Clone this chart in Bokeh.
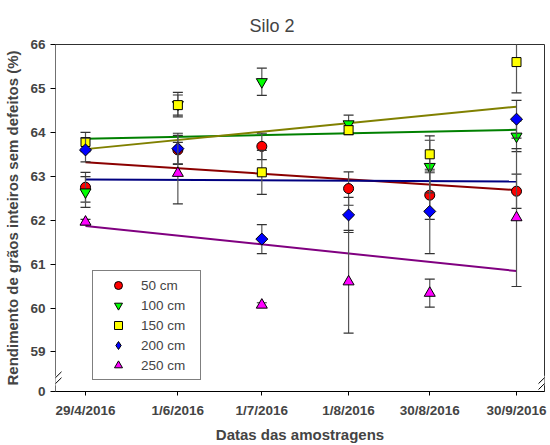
import numpy as np
import pandas as pd
from bokeh.plotting import figure
from bokeh.models import (Range1d, FixedTicker, Legend, LegendItem, Arrow,
                          ColumnDataSource)
from bokeh.embed import file_html
from bokeh.resources import INLINE

# ---------------- data ----------------
dates = ["29/4/2016", "1/6/2016", "1/7/2016", "1/8/2016", "30/8/2016", "30/9/2016"]
series_names = ["50 cm", "100 cm", "150 cm", "200 cm", "250 cm"]

y50 = [62.75, 63.60, 63.68, 62.72, 62.57, 62.66]
e50 = [0.34, 0.33, 0.30, 0.38, 0.55, 0.39]
y100 = [62.64, 64.63, 65.15, 64.19, 63.22, 63.91]
e100 = [0.35, 0.28, 0.31, 0.20, 0.60, 0.35]
y150 = [63.78, 64.62, 63.09, 64.05, 63.50, 65.60]
e150 = [0.22, 0.23, 0.50, 0.10, 0.42, 0.70]
y200 = [63.60, 63.63, 61.57, 62.12, 62.20, 64.30]
e200 = [0.27, 0.35, 0.33, 0.40, 0.96, 0.43]
y250 = [61.96, 63.07, 60.07, 60.60, 60.34, 62.06]
e250 = [0.06, 0.70, 0.05, 1.17, 0.32, 1.57]

y_ticks = [59, 60, 61, 62, 63, 64, 65, 66]
y_break_label = "0"

# ---------------- styles ----------------
fills = ["#FF0000", "#00FF00", "#FFFF00", "#0000FF", "#FF00FF"]
line_cols = ["#8B0000", "#008000", "#808000", "#000080", "#800080"]
markers = ["circle", "inverted_triangle", "square", "square", "triangle"]
legend_markers = ["circle", "inverted_triangle", "square", "diamond", "triangle"]
sizes = [10, 11, 9, 8.5, 11]
angles = [0, 0, 0, np.pi / 4, 0]
FONT = "Liberation Sans"

d = pd.to_datetime(dates, format="%d/%m/%Y")
days = np.array([(t - d[0]).days for t in d], dtype=float)

ymin, ymax = 58.1, 66.0
xmin, xmax = -10.72, 164.0

W, H = 550, 445
BL, BR, BT, BB = 55, 6, 44, 49

p = figure(width=W, height=H, output_backend="svg", toolbar_location=None,
           x_range=Range1d(xmin, xmax), y_range=Range1d(ymin, ymax),
           min_border_left=BL, min_border_right=BR, min_border_top=BT,
           min_border_bottom=BB)
p.background_fill_color = "white"
p.border_fill_color = "white"
p.outline_line_color = "#303030"
p.outline_line_width = 1
p.xgrid.visible = False
p.ygrid.visible = False

p.title.text = "Silo 2"
p.title.align = "left"
p.title.offset = 194
p.title.standoff = 17
p.title.text_font = FONT
p.title.text_font_style = "normal"
p.title.text_font_size = "18px"

# axes
xa = p.xaxis[0]
xa.ticker = FixedTicker(ticks=list(days))
xa.major_label_overrides = {float(k): lab for k, lab in zip(days, dates)}
xa.minor_tick_line_color = None
xa.major_tick_in = 0
xa.major_tick_out = 4
xa.major_label_text_font = FONT
xa.major_label_text_font_style = "bold"
xa.major_label_text_font_size = "13.5px"
xa.major_label_standoff = 7
xa.axis_label = "Datas das amostragens"
xa.axis_label_text_font = FONT
xa.axis_label_text_font_style = "bold"
xa.axis_label_text_font_size = "15px"
xa.axis_label_standoff = 5
xa.axis_line_color = "black"

ya = p.yaxis[0]
ya.ticker = FixedTicker(ticks=[ymin] + y_ticks)
ya.major_label_overrides = {ymin: y_break_label}
ya.minor_tick_line_color = None
ya.major_tick_in = 0
ya.major_tick_out = 5
ya.major_label_text_font = FONT
ya.major_label_text_font_style = "bold"
ya.major_label_text_font_size = "13.5px"
ya.major_label_standoff = 5
ya.axis_label = "Rendimento de grãos inteiros sem defeitos (%)"
ya.axis_label_text_font = FONT
ya.axis_label_text_font_style = "bold"
ya.axis_label_text_font_size = "15px"
ya.axis_label_standoff = 6
ya.axis_line_color = "#707070"

all_y = [y50, y100, y150, y200, y250]
all_e = [e50, e100, e150, e200, e250]

# regression lines (drawn below markers)
for yv, lc in zip(all_y, line_cols):
    slope, icpt = np.polyfit(days, np.array(yv), 1)
    xs = [days[0], days[-1]]
    p.line(xs, [icpt + slope * x for x in xs], line_color=lc, line_width=2)

items = []
for name, yv, ev, fc, mk, lmk, sz, ang in zip(series_names, all_y, all_e, fills,
                                               markers, legend_markers, sizes, angles):
    yv = np.array(yv)
    ev = np.array(ev)
    src = ColumnDataSource(dict(x=days, y=yv, lo=yv - ev, hi=yv + ev))
    p.segment(x0="x", y0="lo", x1="x", y1="hi", source=src,
              line_color="#555555", line_width=1.2)
    p.scatter(x="x", y="lo", source=src, marker="dash", size=10,
              line_color="#333333", line_width=1.2)
    p.scatter(x="x", y="hi", source=src, marker="dash", size=10,
              line_color="#333333", line_width=1.2)
    leg_r = None
    if lmk != mk:
        # same points drawn as a diamond underneath (covered by the rotated
        # square) so that the legend shows a diamond glyph
        leg_r = p.scatter(x="x", y="y", source=src, marker=lmk, size=sz,
                          fill_color=fc, line_color="black", line_width=1)
    r = p.scatter(x="x", y="y", source=src, marker=mk, size=sz, angle=ang,
                  fill_color=fc, line_color="black", line_width=1)
    items.append(LegendItem(label=name, renderers=[leg_r if leg_r is not None else r]))

legend = Legend(items=items, location=(37, 11), spacing=0, padding=4,
                glyph_width=42, glyph_height=20, label_height=18,
                label_standoff=2, label_width=55,
                label_text_font=FONT, label_text_font_size="13.5px",
                border_line_color="black", border_line_width=1,
                background_fill_color="white", background_fill_alpha=1)
p.add_layout(legend)

# axis-break marks
FW = W - BL - BR
FH = H - BT - BB
px_per_day = FW / (xmax - xmin)
px_per_unit = FH / (ymax - ymin)
yb = ymin + 11 / px_per_unit
for xb in (xmin, xmax):
    p.add_layout(Arrow(end=None, x_start=xb, y_start=yb - 5 / px_per_unit,
                       x_end=xb, y_end=yb + 5 / px_per_unit,
                       line_color="white", line_width=4))
    for off in (-3, 3):
        yc = yb + off / px_per_unit
        p.add_layout(Arrow(end=None,
                           x_start=xb - 6 / px_per_day, y_start=yc - 6 / px_per_unit,
                           x_end=xb + 6 / px_per_day, y_end=yc + 6 / px_per_unit,
                           line_color="black", line_width=1))

open("out.html", "w").write(file_html(p, INLINE))
